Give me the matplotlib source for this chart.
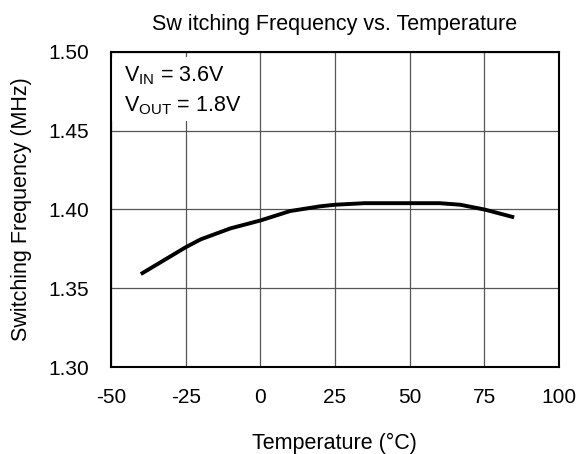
import matplotlib.pyplot as plt
from matplotlib.patches import Rectangle

plt.rcParams['font.family'] = ['Liberation Sans', 'DejaVu Sans']
plt.rcParams['mathtext.fontset'] = 'custom'
plt.rcParams['mathtext.rm'] = 'Liberation Sans'
plt.rcParams['mathtext.it'] = 'Liberation Sans:italic'
plt.rcParams['axes.unicode_minus'] = False

# data
temp = [-40, -25, -20, -10, 0, 10, 20, 25, 35, 60, 67, 75, 85]
freq = [1.359, 1.376, 1.381, 1.388, 1.393, 1.399, 1.402, 1.403, 1.404, 1.404, 1.403, 1.400, 1.395]
xticks = [-50, -25, 0, 25, 50, 75, 100]
yticks = [1.30, 1.35, 1.40, 1.45, 1.50]

fig = plt.figure(figsize=(5.78, 4.54), dpi=100)
ax = fig.add_axes([0.192, 0.1916, 0.775, 0.694])

ax.plot(temp, freq, color='black', linewidth=2.8, solid_capstyle='butt', zorder=3)

ax.set_xlim(-50, 100)
ax.set_ylim(1.30, 1.50)
ax.set_xticks(xticks)
ax.set_yticks(yticks)
ax.set_yticklabels(['%.2f' % v for v in yticks])
ax.grid(True, color='#555555', linewidth=0.9)
ax.set_axisbelow(True)
ax.tick_params(length=0, labelsize=15)
ax.tick_params(axis='x', pad=15)
ax.tick_params(axis='y', pad=16)
for s in ax.spines.values():
    s.set_linewidth(1.5)
    s.set_zorder(4)

# white box behind the condition text
ax.add_patch(Rectangle((0, 0.781), 0.176, 0.203, transform=ax.transAxes,
                       facecolor='white', edgecolor='none', zorder=2))
ax.text(0.029, 0.905, r'V$_{\mathrm{IN}}$ = 3.6V', transform=ax.transAxes,
        fontsize=15.5, va='baseline', zorder=3)
ax.text(0.029, 0.81, r'V$_{\mathrm{OUT}}$ = 1.8V', transform=ax.transAxes,
        fontsize=15.5, va='baseline', zorder=3)

fig.text(0.579, 0.934, 'Sw itching Frequency vs. Temperature', fontsize=15.5,
         ha='center', va='baseline')
fig.text(0.579, 0.011, 'Temperature (°C)', fontsize=15.5, ha='center', va='baseline')
fig.text(0.038, 0.539, 'Switching Frequency (MHz)', fontsize=15.5, rotation=90,
         ha='center', va='center')

fig.savefig('out.png', dpi=100)
